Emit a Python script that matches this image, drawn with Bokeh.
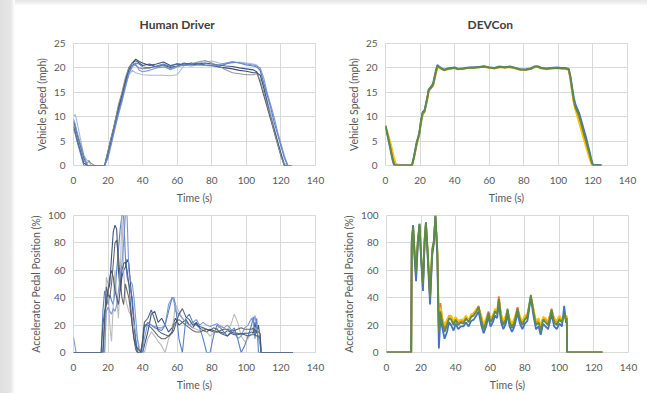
from bokeh.plotting import figure
from bokeh.layouts import column, row
from bokeh.models import Range1d, FixedTicker, Title, Div
from bokeh.embed import file_html
from bokeh.resources import INLINE

# ---------------- data ----------------
x_ticks = [0, 20, 40, 60, 80, 100, 120, 140]
speed_ticks = [0, 5, 10, 15, 20, 25]
pedal_ticks = [0, 20, 40, 60, 80, 100]

# Human driver - vehicle speed (mph)
t_hs = [0, 1, 2, 4, 6, 8, 9, 10, 12, 16, 18, 20, 22, 24, 26, 28, 30, 32, 34, 36, 38, 40,
        44, 48, 52, 56, 60, 64, 68, 72, 76, 80, 84, 88, 92, 96, 100, 104,
        106, 108, 110, 112, 114, 116, 118, 120, 122, 124, 126]
hs_1 = [9, 8, 6.5, 4, 1.5, 0, 0, 0, 0, 0, 0, 3, 6, 8.5, 11.5, 14, 17, 19.5, 21, 21.5, 21, 20.5,
        20.8, 20.2, 20.6, 20.1, 20.4, 21, 20.6, 20.8, 21, 20.8, 20.6, 20.4, 20.3, 20, 19.8, 19.6,
        19.2, 17, 14.5, 12, 9.5, 7, 4.5, 2, 0, 0, 0]
hs_2 = [10, 10.5, 9, 5.5, 2, 1, 1, 0, 0, 0, 0, 2, 5, 8, 10.5, 13.5, 16, 18.5, 19.5, 19, 18.8, 18.6,
        18.5, 18.5, 18.5, 18.4, 18.6, 20.5, 20.8, 21, 21.2, 21.4, 21, 20.8, 21, 21.2, 21, 20.8,
        20.6, 19.5, 16.5, 13.5, 11, 8, 5, 2.5, 0.5, 0, 0]
hs_3 = [8, 7, 5.5, 3, 0.5, 0, 0, 0, 0, 0, 0, 2.5, 5.5, 9, 12, 14.5, 17.5, 20, 21, 21.8, 21.3, 21,
        20.5, 20.8, 21.2, 20.5, 20.8, 20.6, 21, 20.8, 20.6, 20.5, 20.2, 20, 19.8, 19.5, 19.3, 19,
        19, 18.5, 16, 13, 10, 7.5, 5, 2.5, 0, 0, 0]
hs_4 = [8.5, 7.5, 6, 3.5, 1, 0.5, 1, 0.5, 0, 0, 0, 3, 6, 9, 12.5, 15, 18, 20, 21, 20.5, 20, 19.8,
        20, 20.3, 20.5, 19.6, 20.2, 20.6, 20.8, 21.2, 21.5, 21, 20.4, 19.6, 19, 18.8, 18.6, 18.6,
        18.8, 17.5, 15, 12.5, 10, 7, 4.5, 2, 0, 0, 0]
hs_5 = [7.5, 6.5, 5, 2.5, 0, 0, 0, 0, 0, 0, 0, 2, 5, 8, 11, 13.5, 16.5, 19, 20.5, 21, 20.8, 20.2,
        20, 20.4, 20.8, 20.3, 20.9, 20.6, 20.7, 20.9, 20.6, 20.5, 20.3, 20.8, 21.2, 21, 20.6, 20.4,
        20.2, 19.5, 17, 14.5, 12, 9, 6.5, 4, 1.5, 0, 0]
hs_6 = [9.5, 8.5, 7, 4.5, 2, 0, 0, 0, 0, 0, 0, 1.5, 4.5, 7.5, 10.5, 13, 16, 18.8, 20.2, 20.8, 19.5, 19.2,
        19.5, 20, 20.2, 19.8, 20.4, 20.6, 20.4, 20.6, 20.5, 20.4, 20.6, 21, 21.3, 21, 20.8, 20.6,
        20.4, 20, 18, 15, 12.5, 10, 7, 4.5, 2, 0, 0]

# Human driver - accelerator pedal position (%)
t_hp = [0, 1.5,
        15, 16, 17, 18, 19, 20, 21, 22, 23, 24, 25, 26, 27, 28, 29, 30, 31, 32, 33, 34, 35, 36, 37, 38, 39, 40, 41,
        43, 45, 47, 49, 51, 53, 55, 57, 58,
        59, 61, 63, 65, 67, 69, 71, 73, 75, 77, 79, 81, 83, 85, 87, 89, 91, 93, 95, 97, 99, 101, 103,
        104, 105, 106, 107, 108, 108.5, 127]
hp_1 = [0, 0,
        0, 0, 0, 20, 40, 45, 50, 70, 88, 93, 90, 60, 45, 55, 60, 62, 68, 65, 50, 35, 20, 8, 0, 0, 0, 0, 5,
        15, 28, 30, 22, 25, 20, 15, 18, 22,
        25, 20, 22, 24, 20, 18, 22, 18, 16, 15, 17, 16, 15, 15, 14, 16, 15, 14, 14, 13, 14, 14, 15,
        14, 22, 14, 20, 10, 0, 0]
hp_2 = [0, 0,
        0, 0, 30, 45, 40, 35, 42, 38, 35, 45, 60, 75, 90, 100, 100, 70, 55, 50, 45, 40, 25, 10, 0, 0, 0, 5, 18,
        22, 20, 18, 17, 16, 20, 30, 40, 40,
        35, 10, 0, 25, 28, 22, 20, 18, 10, 0, 0, 12, 20, 18, 15, 12, 15, 18, 10, 0, 5, 12, 20,
        26, 10, 25, 0, 0, 0, 0]
hp_3 = [0, 0,
        0, 0, 0, 0, 55, 50, 20, 8, 35, 60, 40, 25, 55, 100, 60, 40, 35, 30, 28, 25, 20, 15, 10, 5, 0, 0, 0,
        10, 15, 12, 8, 5, 0, 10, 15, 25,
        35, 30, 25, 22, 20, 18, 17, 16, 18, 15, 12, 14, 17, 20, 18, 16, 20, 28, 22, 12, 8, 10, 15,
        18, 18, 17, 16, 12, 0, 0]
hp_4 = [0, 0,
        0, 0, 0, 25, 48, 42, 40, 50, 65, 80, 82, 70, 55, 40, 35, 50, 45, 40, 30, 20, 10, 2, 0, 0, 0, 8, 20,
        20, 18, 15, 12, 10, 10, 12, 15, 20,
        22, 24, 22, 20, 18, 16, 15, 15, 16, 17, 16, 15, 15, 16, 17, 17, 16, 16, 17, 18, 17, 17, 17,
        18, 16, 15, 15, 14, 0, 0]
hp_5 = [11, 0,
        0, 0, 0, 0, 30, 33, 30, 28, 32, 30, 35, 45, 55, 65, 80, 100, 100, 60, 52, 50, 40, 25, 10, 0, 0, 0, 10,
        22, 20, 19, 18, 18, 20, 35, 40, 38,
        30, 28, 25, 22, 20, 22, 24, 20, 22, 20, 19, 20, 21, 19, 18, 20, 17, 15, 10, 12, 18, 20, 25,
        22, 27, 18, 10, 5, 0, 0]
hp_6 = [0, 0,
        0, 0, 20, 30, 35, 45, 55, 60, 55, 45, 40, 35, 45, 60, 65, 66, 60, 50, 35, 20, 10, 5, 3, 2, 0, 10, 22,
        25, 31, 24, 16, 14, 13, 12, 14, 16,
        20, 28, 32, 26, 24, 20, 21, 19, 18, 17, 16, 18, 17, 14, 13, 12, 14, 13, 13, 14, 13, 12, 13,
        13, 13, 12, 12, 10, 0, 0]

# DEVCon - vehicle speed (mph)
t_ds = [0, 1, 2, 3, 4, 5, 6, 10, 15.3, 16.5, 18, 19.5, 20.5, 21.5, 22.5, 24, 25, 26, 27.5, 29,
        30, 31, 32.5, 34, 36, 38, 40, 42, 45, 48, 51, 54, 57, 60, 63, 66, 69, 72, 75, 78, 81, 84,
        86, 88, 90, 93, 96, 99, 102, 104, 106, 107, 108, 109, 110, 111, 112, 114, 116, 118, 119, 120, 125]
ds_blue = [8.0, 6.4, 4.7, 3.0, 1.2, 0, 0, 0, 0, 1.9, 4.7, 6.6, 9.2, 11.0, 11.2, 13.7, 15.6, 16.0, 16.8, 19.3,
           20.6, 20.3, 19.9, 19.6, 19.9, 20.0, 20.1, 19.8, 19.9, 20.1, 20.1, 20.2, 20.3, 20.1, 20.0, 20.3, 20.1, 20.3, 20.0, 19.7, 19.7, 19.9,
           20.3, 20.3, 20.0, 19.9, 20.0, 20.1, 20.0, 20.0, 19.8, 18.3, 16.0, 13.8, 12.4, 11.6, 10.8, 8.3, 5.8, 3.0, 1.4, 0.2, 0]
ds_orange = [8.0, 6.8, 5.4, 3.9, 2.4, 1.0, 0.2, 0, 0, 1.5, 4.2, 6.2, 8.6, 10.4, 10.9, 13.2, 15.2, 15.7, 16.3, 18.6,
             20.1, 20.1, 19.8, 19.6, 19.7, 19.9, 19.9, 19.8, 19.9, 20.0, 20.1, 20.1, 20.2, 20.0, 19.9, 20.1, 20.1, 20.1, 19.9, 19.6, 19.6, 19.8,
             20.1, 20.2, 19.9, 19.8, 19.9, 19.9, 19.9, 19.8, 19.6, 17.5, 15.0, 12.8, 11.6, 10.6, 9.6, 7.0, 4.5, 2.0, 0.8, 0, 0]
ds_gold = [8.1, 7.0, 5.8, 4.5, 3.0, 1.5, 0.3, 0, 0, 1.6, 4.4, 6.3, 8.8, 10.6, 11.0, 13.3, 15.3, 15.8, 16.4, 18.8,
           20.2, 20.1, 19.7, 19.5, 19.8, 19.9, 20.0, 19.7, 19.9, 20.0, 20.0, 20.2, 20.3, 20.0, 19.9, 20.2, 20.0, 20.2, 19.9, 19.6, 19.6, 19.8,
           20.2, 20.2, 19.9, 19.7, 19.9, 20.0, 19.8, 19.8, 19.7, 17.8, 15.2, 12.8, 11.2, 10.0, 8.8, 6.2, 3.8, 1.5, 0.4, 0, 0]
ds_green = [8.2, 6.6, 5.0, 3.3, 1.6, 0.2, 0, 0, 0, 1.8, 4.6, 6.5, 9.0, 10.8, 11.0, 13.5, 15.5, 15.8, 16.5, 19.0,
            20.4, 20.2, 19.8, 19.6, 19.8, 19.9, 20.0, 19.8, 19.8, 20.0, 20.0, 20.1, 20.3, 20.1, 19.9, 20.2, 20.1, 20.2, 20.0, 19.7, 19.6, 19.8,
            20.2, 20.3, 20.0, 19.8, 19.9, 20.0, 19.9, 19.9, 19.7, 18.0, 15.5, 13.2, 11.8, 11.0, 10.2, 7.6, 5.0, 2.4, 1.0, 0, 0]

# DEVCon - accelerator pedal position (%)
t_dp = [0, 14.3, 14.6, 15.4, 16.2, 17.1, 18.0, 19.1, 20.1, 21.1, 22.0, 22.8, 23.8, 25.2, 26.4, 27.4, 28.3,
        29.4, 30.3, 31.2, 32.3, 33.6, 35.0, 36.2, 37.4, 38.8, 40.0, 41.5, 43.0, 44.5, 46.0, 47.5, 49.0,
        50.5, 52.0, 53.3, 54.8, 56.2, 57.6, 59.0, 60.2, 61.5, 62.8, 64.0, 65.0, 66.3, 67.6, 69.0, 70.0,
        71.2, 72.6, 74.0, 75.8, 77.2, 78.6, 80.0, 81.5, 83.5, 85.0, 86.5, 88.0, 89.2, 90.6, 92.0, 93.5,
        95.5, 97.0, 98.5, 100.0, 101.5, 102.8, 103.8, 104.3, 104.5, 125]
dp_blue = [0, 0, 82, 93, 70, 52, 76, 94, 66, 45, 78, 95, 70, 35, 70, 80, 100,
           70, 3, 25, 18, 10, 15, 22, 20, 16, 21, 17, 19, 19, 22, 19, 23,
           24, 27, 30, 20, 14, 19, 26, 19, 22, 27, 25, 36, 22, 17, 21, 28,
           19, 15, 19, 29, 21, 17, 21, 23, 40, 27, 17, 19, 13, 21, 19, 17,
           28, 19, 17, 21, 19, 34, 22, 22, 0, 0]
dp_orange = [0, 0, 78, 90, 72, 55, 78, 92, 68, 48, 80, 94, 73, 40, 73, 80, 99,
             73, 18, 36, 24, 18, 23, 27, 26, 22, 25, 22, 23, 23, 26, 24, 27,
             29, 31, 34, 26, 19, 24, 30, 24, 27, 31, 30, 41, 27, 22, 26, 31,
             24, 20, 24, 33, 25, 22, 26, 27, 41, 31, 22, 24, 18, 25, 24, 22,
             32, 24, 22, 26, 23, 27, 25, 26, 0, 0]
dp_gold = [0, 0, 79, 91, 74, 60, 79, 93, 69, 52, 81, 94, 74, 42, 74, 81, 99,
           74, 20, 33, 25, 20, 24, 26, 27, 23, 26, 23, 24, 24, 27, 23, 28,
           28, 32, 32, 27, 20, 25, 28, 25, 26, 32, 29, 37, 28, 23, 27, 29,
           25, 21, 25, 31, 26, 23, 27, 28, 40, 32, 23, 25, 19, 26, 25, 23,
           30, 25, 23, 27, 24, 26, 26, 27, 0, 0]
dp_green = [0, 0, 80, 92, 75, 58, 80, 94, 70, 50, 82, 95, 75, 40, 75, 82, 100,
            75, 15, 30, 22, 15, 20, 25, 24, 20, 24, 20, 22, 21, 25, 22, 26,
            27, 30, 33, 24, 17, 22, 29, 22, 25, 30, 28, 39, 25, 20, 24, 32,
            22, 18, 22, 32, 24, 20, 24, 26, 42, 30, 20, 22, 16, 24, 22, 20,
            31, 22, 20, 24, 22, 28, 24, 25, 0, 0]

human_colors = ["#264478", "#9DB3DE", "#2F3E5C", "#8C8C8C", "#4472C4", "#6F8FCF"]
human_pedal_colors = ["#264478", "#4472C4", "#B4B4B4", "#595959", "#6F8FCF", "#44546A"]
devcon_colors = ["#ED7D31", "#FFC000", "#4472C4", "#5E8C43"]

# ---------------- styling helpers ----------------
FONT = "Lato"
TXT = "#595959"
GRID = "#D9D9D9"


def make_fig(frame_h, bl, br, bt, bb, ymax, yticks, ylabel, title=None, toff=0):
    p = figure(frame_width=242, frame_height=frame_h,
               output_backend="svg", toolbar_location=None,
               x_range=Range1d(0, 140), y_range=Range1d(0, ymax),
               min_border_left=bl, min_border_right=br,
               min_border_top=bt, min_border_bottom=bb,
               background_fill_color="white", border_fill_color="white",
               outline_line_color=GRID, outline_line_width=1)
    if title:
        p.title = Title(text=title, align="left", offset=toff, vertical_align="top",
                        text_font=FONT, text_font_size="12px",
                        text_font_style="bold", text_color="#404040", standoff=19)
    p.xaxis.ticker = FixedTicker(ticks=x_ticks)
    p.yaxis.ticker = FixedTicker(ticks=yticks)
    p.xaxis.axis_label = "Time (s)"
    p.yaxis.axis_label = ylabel
    for ax in (p.xaxis[0], p.yaxis[0]):
        ax.axis_line_color = None
        ax.major_tick_line_color = None
        ax.minor_tick_line_color = None
        ax.major_tick_out = 0
        ax.major_tick_in = 0
        ax.minor_tick_out = 0
        ax.minor_tick_in = 0
        ax.major_label_text_font = FONT
        ax.major_label_text_font_size = "10px"
        ax.major_label_text_color = TXT
        ax.axis_label_text_font = FONT
        ax.axis_label_text_font_size = "10.5px"
        ax.axis_label_text_font_style = "normal"
        ax.axis_label_text_color = TXT
    p.xaxis.major_label_standoff = 11
    p.xaxis.axis_label_standoff = 5
    p.yaxis.major_label_standoff = 8
    p.yaxis.axis_label_standoff = 3
    p.xgrid.grid_line_color = GRID
    p.ygrid.grid_line_color = GRID
    return p


tl = make_fig(122, 58, 25, 38, 41, 25, speed_ticks, "Vehicle Speed (mph)", "Human Driver", 66)
tr = make_fig(122, 45, 20, 38, 41, 25, speed_ticks, "Vehicle Speed (mph)", "DEVCon", 82)
bl = make_fig(137, 58, 25, 9, 41, 100, pedal_ticks, "Accelerator Pedal Position (%)")
br = make_fig(137, 45, 20, 9, 41, 100, pedal_ticks, "Accelerator Pedal Position (%)")

for ys, c in zip([hs_1, hs_2, hs_3, hs_4, hs_5, hs_6], human_colors):
    tl.line(t_hs, ys, line_color=c, line_width=1.1, line_alpha=0.9)
for ys, c in zip([hp_1, hp_2, hp_3, hp_4, hp_5, hp_6], human_pedal_colors):
    bl.line(t_hp, ys, line_color=c, line_width=1.1, line_alpha=0.9)
for ys, c in zip([ds_orange, ds_gold, ds_blue, ds_green], devcon_colors):
    tr.line(t_ds, ys, line_color=c, line_width=1.8)
for ys, c in zip([dp_orange, dp_gold, dp_blue, dp_green], devcon_colors):
    br.line(t_dp, ys, line_color=c, line_width=1.8)

# slide-card shadow strips (left edge and top edge)
left_strip = Div(text="", width=15, height=393, margin=(0, 0, 0, 0),
                 styles={"background": "linear-gradient(to right, #e0e0e0 0%, #e6e6e6 70%, #ffffff 100%)"})
top_strip = Div(text="", width=632, height=5, margin=(0, 0, 0, 0),
                styles={"background": "linear-gradient(to bottom, #e6e6e6 0%, #f0f0f0 60%, #fbfbfb 100%)"})

layout = row(left_strip, column(top_strip, row(tl, tr), row(bl, br)))
open("out.html", "w").write(file_html(layout, INLINE))
